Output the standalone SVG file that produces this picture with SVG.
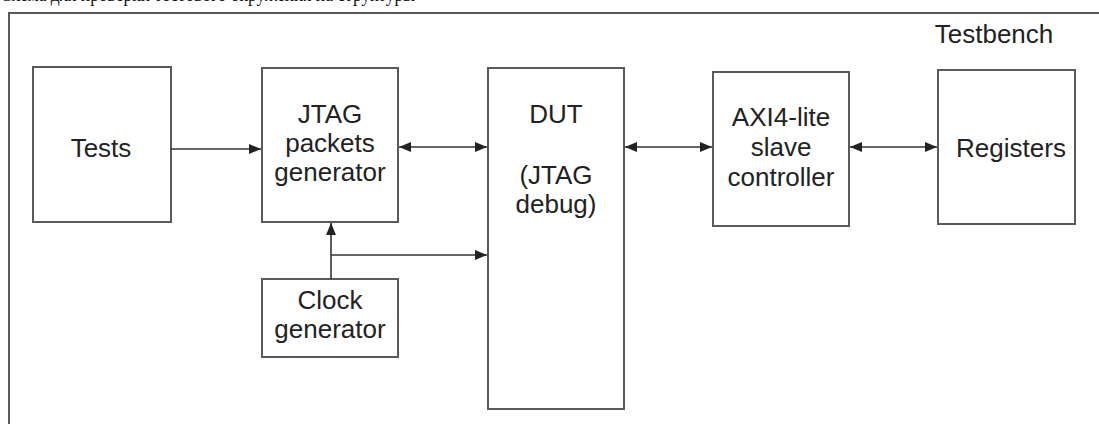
<svg xmlns="http://www.w3.org/2000/svg" width="1099" height="424" viewBox="0 0 1099 424">
  <style>
    .box { fill: #ffffff; stroke: #5a5a5a; stroke-width: 2; }
    .frame { fill: none; stroke: #5a5a5a; stroke-width: 2; }
    .lbl { font-family: "Liberation Sans", Arial, sans-serif; font-size: 26px; fill: #222222; text-anchor: middle; }
    .wire { fill: none; stroke: #333333; stroke-width: 1.6; }
    .caption { font-family: "Liberation Serif", "Times New Roman", serif; font-size: 22px; fill: #111111; }
  </style>
  <defs>
    <marker id="head" viewBox="0 0 12 10" refX="12" refY="5" markerWidth="12" markerHeight="10" markerUnits="userSpaceOnUse" orient="auto-start-reverse">
      <path d="M0,0 L12,5 L0,10 Z" fill="#222222"/>
    </marker>
  </defs>

  <rect width="1099" height="424" fill="#ffffff"/>

  <!-- caption line above the figure, mostly outside the canvas -->
  <text class="caption" x="0" y="1" textLength="415" lengthAdjust="spacingAndGlyphs">Схема для проверки тестового окружения на структуры</text>

  <!-- testbench frame -->
  <g id="testbench">
    <rect class="frame" x="9" y="13" width="1100" height="430"/>
    <text class="lbl" x="994" y="43">Testbench</text>
  </g>

  <g id="tests">
    <rect class="box" x="33" y="67" width="138" height="155"/>
    <text class="lbl" x="101" y="157">Tests</text>
  </g>

  <g id="jtag-gen">
    <rect class="box" x="262" y="68" width="136" height="154"/>
    <text class="lbl" x="330" y="123">JTAG</text>
    <text class="lbl" x="330" y="152">packets</text>
    <text class="lbl" x="330" y="181">generator</text>
  </g>

  <g id="clock-gen">
    <rect class="box" x="262" y="279" width="136" height="78"/>
    <text class="lbl" x="330" y="309">Clock</text>
    <text class="lbl" x="330" y="338">generator</text>
  </g>

  <g id="dut">
    <rect class="box" x="488" y="68" width="136" height="341"/>
    <text class="lbl" x="556" y="123">DUT</text>
    <text class="lbl" x="556" y="184">(JTAG</text>
    <text class="lbl" x="556" y="213">debug)</text>
  </g>

  <g id="axi">
    <rect class="box" x="713" y="72" width="136" height="154"/>
    <text class="lbl" x="781" y="126">AXI4-lite</text>
    <text class="lbl" x="781" y="156">slave</text>
    <text class="lbl" x="781" y="186">controller</text>
  </g>

  <g id="registers">
    <rect class="box" x="938" y="70" width="137" height="154"/>
    <text class="lbl" x="1011" y="157">Registers</text>
  </g>

  <g id="connectors">
    <line class="wire" x1="171" y1="149" x2="261" y2="149" marker-end="url(#head)"/>
    <line class="wire" x1="399" y1="147" x2="487" y2="147" marker-start="url(#head)" marker-end="url(#head)"/>
    <line class="wire" x1="625" y1="147" x2="712" y2="147" marker-start="url(#head)" marker-end="url(#head)"/>
    <line class="wire" x1="850" y1="147" x2="937" y2="147" marker-start="url(#head)" marker-end="url(#head)"/>
    <line class="wire" x1="331" y1="279" x2="331" y2="223" marker-end="url(#head)"/>
    <line class="wire" x1="331" y1="255" x2="487" y2="255" marker-end="url(#head)"/>
  </g>
</svg>
